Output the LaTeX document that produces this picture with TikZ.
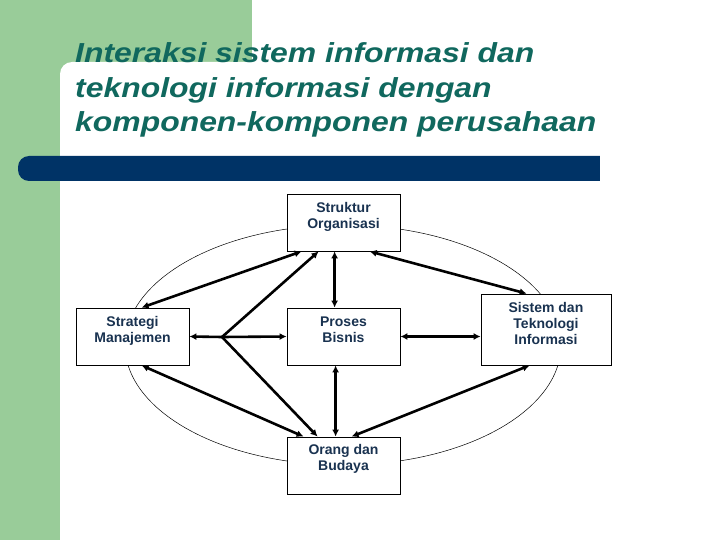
\documentclass[tikz,border=0pt]{standalone}
\usepackage{fontspec}
\setmainfont{Liberation Sans}
\usetikzlibrary{arrows.meta,calc}
\definecolor{greenbg}{RGB}{153,204,153}
\definecolor{navybar}{RGB}{0,51,102}
\definecolor{titlecol}{RGB}{16,104,94}
\definecolor{boxtext}{RGB}{25,50,80}
\begin{document}
\begin{tikzpicture}[x=1pt,y=-1pt,
  box/.style={draw=black, line width=0.8pt, fill=white, inner sep=0pt, minimum width=113pt, minimum height=57pt},
  lbl/.style={anchor=north, inner sep=0pt, align=center, font=\fontsize{14}{16}\selectfont\bfseries, text=boxtext},
  ttl/.style={anchor=base west, inner sep=0pt, font=\fontsize{27.5}{35}\selectfont\bfseries\itshape, text=titlecol},
  conn/.style={line width=2.6pt, {Latex[length=7pt,width=7pt]}-{Latex[length=7pt,width=7pt]}},
  oneway/.style={line width=2.6pt, -{Latex[length=7pt,width=7pt]}},
  orbit/.style={draw=black, line width=0.5pt}
]
\useasboundingbox (0,0) rectangle (720,540);
% background
\fill[greenbg] (0,0) rectangle (252,90);
\fill[greenbg] (0,0) rectangle (60,540);
\fill[white, rounded corners=12pt] (60,62) rectangle (740,560);
% bar
\fill[navybar, rounded corners=11pt] (18,156) rectangle (630,181);
\fill[white] (600,150) rectangle (640,190);
% title
\node[ttl] (t1) at (75,63) {\scalebox{1.16}[1]{Interaksi sistem informasi dan}};
\node[ttl] (t2) at (75,98) {\scalebox{1.16}[1]{teknologi informasi dengan}};
\node[ttl] (t3) at (75,132) {\scalebox{1.16}[1]{komponen-komponen perusahaan}};
% orbit
\draw[orbit] (343,345) ellipse [x radius=218, y radius=120];
% boxes
\node[box] (struk) at (343.5,222.5) {};
\node[box] (strat) at (132.5,336.5) {};
\node[box] (proses) at (343.5,336.5) {};
\node[box, minimum width=130pt, minimum height=71pt] (sistem) at (546,329.5) {};
\node[box] (orang) at (343.5,465.5) {};
\node[lbl] (struk-t) at ([yshift=-9pt]struk.north) {Struktur\\Organisasi};
\node[lbl] (strat-t) at ([yshift=-9pt]strat.north) {Strategi\\Manajemen};
\node[lbl] (proses-t) at ([yshift=-9pt]proses.north) {Proses\\Bisnis};
\node[lbl] (sistem-t) at ([yshift=-9pt]sistem.north) {Sistem dan\\Teknologi\\Informasi};
\node[lbl] (orang-t) at ([yshift=-8pt]orang.north) {Orang dan\\Budaya};
% hub
\coordinate (hub) at (222,337);
\draw[oneway] (hub) -- ([xshift=32pt]struk.south west);
\draw[oneway] (hub) -- (strat.east);
\draw[oneway] (hub) -- (proses.west);
\draw[oneway] (hub) -- ([xshift=31pt]orang.north west);
% connectors
\draw[conn] ([xshift=66pt]strat.north west) -- ([xshift=15pt]struk.south west);
\draw[conn] ([xshift=48pt]struk.south west) -- ([xshift=48pt]proses.north west);
\draw[conn] ([xshift=83pt]struk.south west) -- ([xshift=46pt]sistem.north west);
\draw[conn] (proses.east) -- (proses.east -| sistem.west);
\draw[conn] ([xshift=66pt]strat.south west) -- ([xshift=17pt]orang.north west);
\draw[conn] ([xshift=49pt]proses.south west) -- ([xshift=49pt]orang.north west);
\draw[conn] ([xshift=49pt]sistem.south west) -- ([xshift=65pt]orang.north west);
\end{tikzpicture}
\end{document}
